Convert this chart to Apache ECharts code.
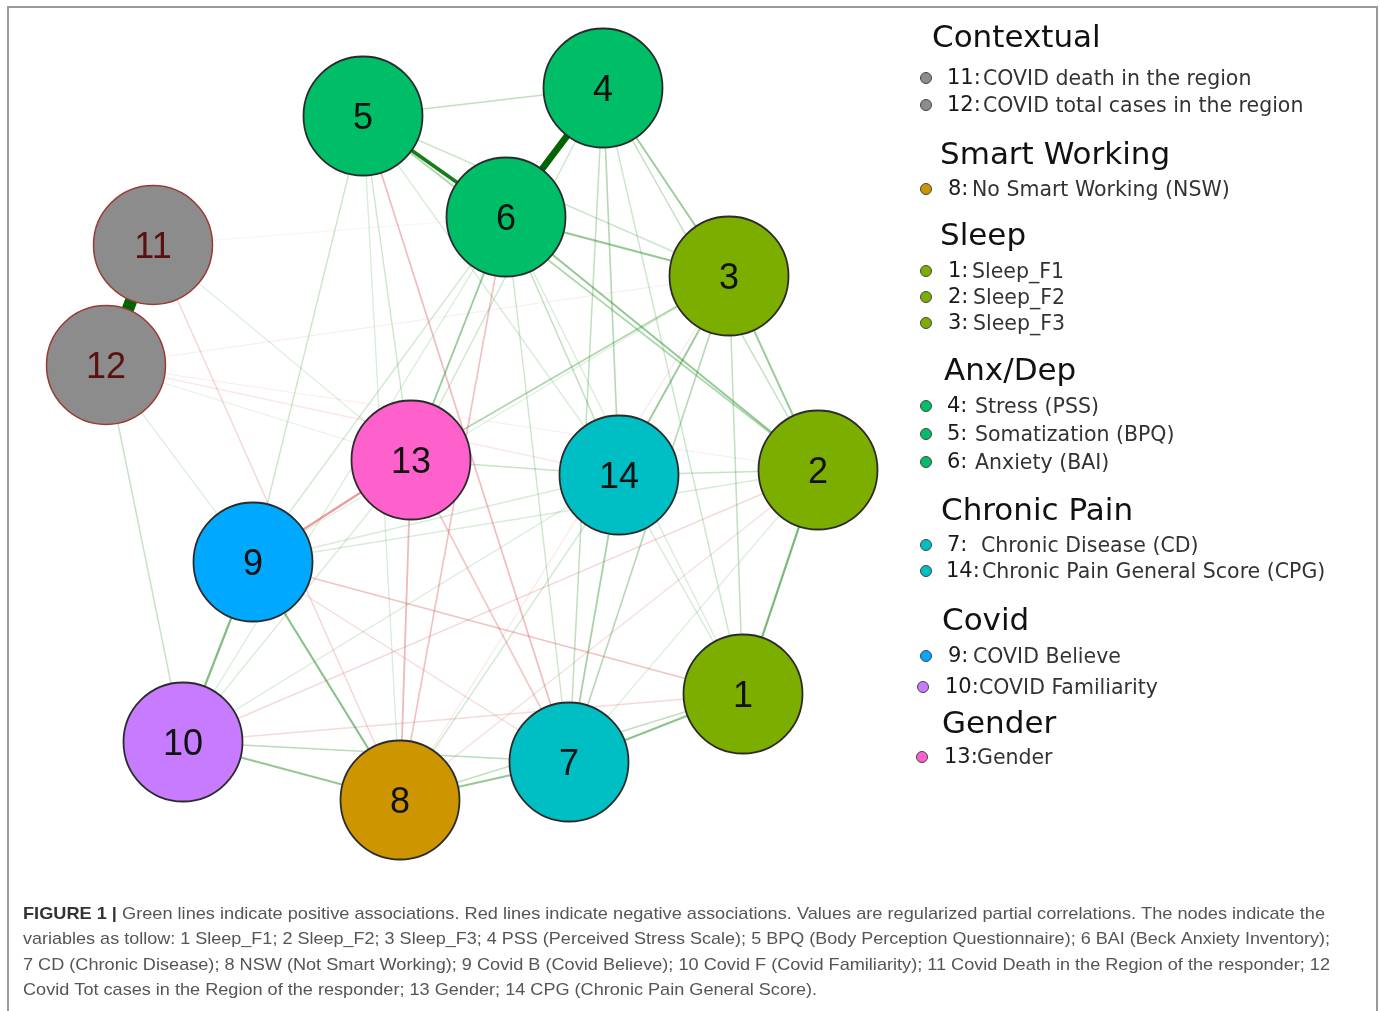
<!DOCTYPE html>
<html><head><meta charset="utf-8">
<script src="https://cdn.jsdelivr.net/npm/echarts@6/dist/echarts.min.js"></script>
<style>html,body{margin:0;padding:0;background:#fff}#c{width:1380px;height:1011px}</style>
</head><body><div id="c"></div>
<script>
// ---- Data ----
const nodeIds   = ['1','2','3','4','5','6','7','8','9','10','11','12','13','14'];
const nodeX     = [743, 818, 729, 603, 363, 506, 569, 400, 253, 183, 153, 106, 411, 619];
const nodeY     = [694, 470, 276,  88, 116, 217, 762, 800, 562, 742, 245, 365, 460, 475];
const nodeGroup = ['Sleep','Sleep','Sleep','Anx/Dep','Anx/Dep','Anx/Dep','Chronic Pain','Smart Working','Covid','Covid F','Contextual','Contextual','Gender','Chronic Pain'];

// edges: source, target, signed regularized partial correlation (estimated)
const edgeFrom   = [11,4,5,2,9,9,10,7,8,8,6,4,3,6,5,4,4,4,4,4,4,3,3,3,3,6,6,6,6,6,14,13,14,14,14,14,14,5,5,5,5,5,10,10,12,11,12,13,9,9,1,2,
                    9,13,5,6,9,13,9,10,8,11,10,12,11,12,8,12];
const edgeTo     = [12,6,6,1,10,8,8,1,7,1,3,3,2,2,2,5,14,7,1,2,13,14,7,1,13,13,14,7,9,10,7,14,2,1,10,8,9,9,13,8,3,14,7,12,9,13,13,10,2,3,6,7,
                    13,8,7,8,1,7,7,2,2,8,1,14,6,3,3,2];
const edgeWeight = [0.95,0.6,0.35,0.2,0.19,0.18,0.16,0.17,0.16,0.09,0.16,0.15,0.15,0.16,0.12,0.09,0.11,0.09,0.07,0.09,0.07,0.15,0.11,0.09,0.12,0.15,0.09,0.07,0.06,0.05,0.13,0.08,0.08,0.06,0.05,0.06,0.05,0.07,0.07,0.05,0.07,0.05,0.1,0.08,0.04,0.04,0.03,0.05,0.05,0.04,0.05,0.04,
                    -0.2,-0.14,-0.13,-0.12,-0.12,-0.11,-0.07,-0.07,-0.06,-0.08,-0.07,-0.04,-0.02,-0.03,-0.04,-0.03];

// legend
const legendGroups = ['Contextual','Smart Working','Sleep','Anx/Dep','Chronic Pain','Covid','Gender'];
const legendNums   = [['11:','12:'],['8:'],['1:','2:','3:'],['4:','5:','6:'],['7:','14:'],['9:','10:'],['13:']];
const legendLabels = [['COVID death in the region','COVID total cases in the region'],['No Smart Working (NSW)'],
                      ['Sleep_F1','Sleep_F2','Sleep_F3'],['Stress (PSS)','Somatization (BPQ)','Anxiety (BAI)'],
                      ['Chronic Disease (CD)','Chronic Pain General Score (CPG)'],['COVID Believe','COVID Familiarity'],['Gender']];
const legendColorKeys = [['Contextual','Contextual'],['Smart Working'],['Sleep','Sleep','Sleep'],['Anx/Dep','Anx/Dep','Anx/Dep'],
                         ['Chronic Pain','Chronic Pain'],['Covid','Covid F'],['Gender']];

const captionBold = 'FIGURE 1 |';
const captionLines = [
  ' Green lines indicate positive associations. Red lines indicate negative associations. Values are regularized partial correlations. The nodes indicate the',
  'variables as tollow: 1 Sleep_F1; 2 Sleep_F2; 3 Sleep_F3; 4 PSS (Perceived Stress Scale); 5 BPQ (Body Perception Questionnaire); 6 BAI (Beck Anxiety Inventory);',
  '7 CD (Chronic Disease); 8 NSW (Not Smart Working); 9 Covid B (Covid Believe); 10 Covid F (Covid Familiarity); 11 Covid Death in the Region of the responder; 12',
  'Covid Tot cases in the Region of the responder; 13 Gender; 14 CPG (Chronic Pain General Score).'
];

// ---- Styles ----
const groupColor = {
  'Sleep':'#7CAE00','Anx/Dep':'#00BE67','Chronic Pain':'#00BFC4','Smart Working':'#CD9600',
  'Covid':'#00A9FF','Covid F':'#C77CFF','Contextual':'#8C8C8C','Gender':'#FF61CC'
};

const nodes = nodeIds.map((id,i)=>{
  const ctx = nodeGroup[i]==='Contextual';
  return {
    name:id, value:[nodeX[i],nodeY[i]],
    itemStyle:{color:groupColor[nodeGroup[i]], borderColor: ctx?'#9a3a34':'#2b2b2b', borderWidth: ctx?1.5:1.8},
    label:{color: ctx?'#5a1010':'#111'}
  };
});

const order = edgeWeight.map((w,i)=>i).sort((a,b)=>Math.abs(edgeWeight[a])-Math.abs(edgeWeight[b]));
const links = order.map(i=>{
  const w = edgeWeight[i], a = Math.abs(w);
  let color;
  if (w>0){
    const t = Math.min(1, a/0.6);
    const r = Math.round(55*(1-t)), g = Math.round(160-60*t), b = Math.round(55*(1-t));
    const al = Math.min(1, 0.05 + a*2.8);
    color = `rgba(${r},${g},${b},${al})`;
  } else {
    const al = Math.min(1, 0.03 + a*2.7);
    color = `rgba(215,85,85,${al})`;
  }
  return {source:String(edgeFrom[i]), target:String(edgeTo[i]),
          lineStyle:{color, width: 1.2 + 12*Math.pow(a,1.5), opacity:1, curveness:0}};
});

// ---- Graphic: legend, caption, border ----
const graphic = [];
graphic.push({type:'rect', shape:{x:8, y:7, width:1369, height:1020}, style:{fill:'none', stroke:'#9a9a9a', lineWidth:2}, z:100});

const titleX = [932, 940, 940, 944, 941, 942, 942];
const titleY = [39, 156, 237, 372, 512, 622, 725];
const itemY  = [[79,106],[190],[272,298,324],[407,435,463],[546,572],[657,688],[758]];
const numX   = [[947,947],[948],[948,948,948],[947,947,947],[947,946],[948,945],[944]];
const labX   = [[983,983],[972],[972,973,973],[975,975,975],[981,982],[973,979],[977]];
const dotX   = [[926,926],[926],[926,926,926],[926,926,926],[926,926],[926,923],[922]];
legendGroups.forEach((g,gi)=>{
  graphic.push({type:'text', x:titleX[gi], y:titleY[gi], style:{text:g, fill:'#111', font:'31px "DejaVu Sans"', textVerticalAlign:'middle', verticalAlign:'middle'}});
  legendNums[gi].forEach((n,k)=>{
    const y = itemY[gi][k];
    graphic.push({type:'circle', shape:{cx:dotX[gi][k], cy:y-1, r:5.5}, style:{fill:groupColor[legendColorKeys[gi][k]], stroke:'#444', lineWidth:1}});
    graphic.push({type:'text', x:numX[gi][k], y:y, style:{text:n, fill:'#1a1a1a', font:'21px "DejaVu Sans"', textVerticalAlign:'middle', verticalAlign:'middle'}});
    graphic.push({type:'text', x:labX[gi][k], y:y+1, style:{text:legendLabels[gi][k], fill:'#333', font:'20.5px "DejaVu Sans"', textVerticalAlign:'middle', verticalAlign:'middle'}});
  });
});

// caption (stretched horizontally to match the reference line widths)
const mctx = document.createElement('canvas').getContext('2d');
const capFontN = '17px "Liberation Sans"', capFontB = 'bold 17px "Liberation Sans"';
const capY = [914, 939, 965, 990];
const capEnd = [1325, 1330, 1330, null];
mctx.font = capFontB; const bw = mctx.measureText(captionBold).width;
let scales = [];
captionLines.forEach((t,i)=>{
  mctx.font = capFontN; let w = mctx.measureText(t).width;
  if (i===0) w += bw;
  scales.push(capEnd[i] ? (capEnd[i]-23)/w : null);
});
const avgS = (scales[0]+scales[1]+scales[2])/3;
captionLines.forEach((t,i)=>{
  const s = scales[i] || avgS;
  let x = 23;
  if (i===0){
    graphic.push({type:'text', x:x, y:capY[i], scaleX:s, style:{text:captionBold, fill:'#333', font:capFontB, textVerticalAlign:'middle', verticalAlign:'middle'}});
    x += bw*s;
  }
  graphic.push({type:'text', x:x, y:capY[i], scaleX:s, style:{text:t, fill:'#555', font:capFontN, textVerticalAlign:'middle', verticalAlign:'middle'}});
});

const chart = echarts.init(document.getElementById('c'), null, {renderer:'canvas'});
chart.setOption({
  animation:false,
  backgroundColor:'#fff',
  grid:{left:0, right:0, top:0, bottom:0},
  xAxis:{type:'value', min:0, max:1380, show:false},
  yAxis:{type:'value', min:0, max:1011, inverse:true, show:false},
  series:[{
    type:'graph', coordinateSystem:'cartesian2d', layout:'none',
    symbol:'circle', symbolSize:119, silent:true,
    emphasis:{disabled:true},
    label:{show:true, position:'inside', formatter:'{b}', fontSize:36, fontFamily:'Liberation Sans', offset:[0,3]},
    data:nodes, links:links
  }],
  graphic: graphic
});
</script></body></html>
